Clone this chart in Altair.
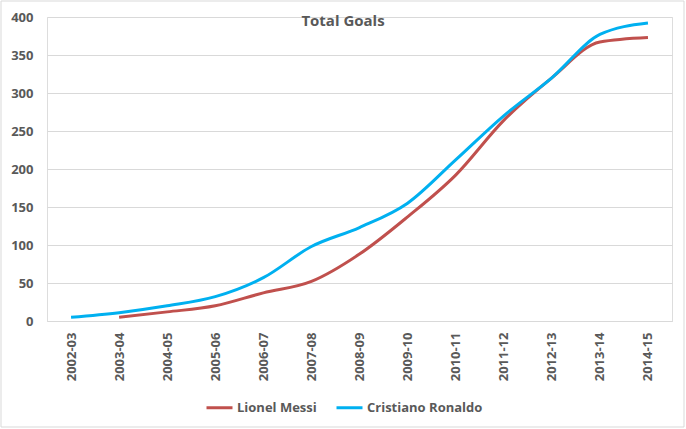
import altair as alt
import pandas as pd

seasons = ["2002-03", "2003-04", "2004-05", "2005-06", "2006-07", "2007-08", "2008-09",
           "2009-10", "2010-11", "2011-12", "2012-13", "2013-14", "2014-15"]
messi = [None, 5, 12, 20, 37, 52, 88, 137, 192, 264, 320, 367, 373]
ronaldo = [5, 11, 20, 32, 57, 98, 123, 155, 212, 270, 320, 377, 392]
series = ["Lionel Messi", "Cristiano Ronaldo"]
colors = ["#C0504D", "#00B0F0"]

rows = []
for name, vals in zip(series, [messi, ronaldo]):
    for s, v in zip(seasons, vals):
        if v is not None:
            rows.append({"Season": s, "Goals": v, "Player": name})
df = pd.DataFrame(rows)

W, H = 625, 304
FONT = "Open Sans"
GRAY = "#595959"
GRID = "#d9d9d9"

lines = alt.Chart(df).mark_line(strokeWidth=3, interpolate="monotone").encode(
    x=alt.X("Season:N", sort=seasons, title=None,
            scale=alt.Scale(domain=seasons, paddingOuter=0.5),
            axis=alt.Axis(labelAngle=270, labelAlign="right", labelBaseline="middle",
                          ticks=False, labelPadding=11, domainColor=GRID,
                          labelColor=GRAY, labelFont=FONT, labelFontSize=13,
                          labelFontWeight="bold")),
    y=alt.Y("Goals:Q", title=None,
            scale=alt.Scale(domain=[0, 400], nice=False),
            axis=alt.Axis(values=[0, 50, 100, 150, 200, 250, 300, 350, 400],
                          domain=False, ticks=False, gridColor=GRID,
                          labelPadding=14, labelColor=GRAY, labelFont=FONT,
                          labelFontSize=13, labelFontWeight="bold")),
    color=alt.Color("Player:N", scale=alt.Scale(domain=series, range=colors),
                    sort=series,
                    legend=alt.Legend(title=None, orient="none", direction="horizontal",
                                      legendX=158, legendY=376,
                                      symbolType="stroke", symbolSize=676,
                                      symbolStrokeWidth=3, columnPadding=13,
                                      labelFont=FONT, labelFontSize=13,
                                      labelFontWeight="bold", labelColor=GRAY,
                                      labelOffset=3)),
)

title = alt.Chart(pd.DataFrame({"t": ["Total Goals"]})).mark_text(
    font=FONT, fontSize=15, fontWeight="bold", color=GRAY, baseline="middle"
).encode(text="t:N", x=alt.value(296), y=alt.value(4))

frame = alt.Chart(pd.DataFrame({"f": [0]})).mark_rect(
    fill=None, stroke=GRID, strokeWidth=1
).encode(x=alt.value(-46), x2=alt.value(637), y=alt.value(-16), y2=alt.value(410))

chart = alt.layer(frame, lines, title).properties(
    width=W, height=H,
    autosize=alt.AutoSizeParams(type="none"),
    padding={"left": 47, "top": 17, "right": 14, "bottom": 108},
).configure_view(stroke=None).configure(background="white")

chart.save("out.html", embed_options={"renderer": "svg", "actions": False})
